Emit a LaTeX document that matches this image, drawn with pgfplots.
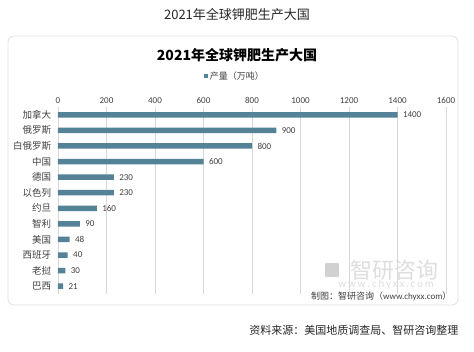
\documentclass[border=0pt]{standalone}
\usepackage{pgfplots}
\pgfplotsset{compat=1.18}
\usepackage{fontspec}
\setmainfont{Noto Sans CJK SC}
\newfontfamily\lat{Carlito}
\definecolor{barc}{RGB}{84,130,150}
\definecolor{gridc}{RGB}{217,217,217}
\definecolor{txt}{RGB}{64,64,64}
\begin{document}
\begin{tikzpicture}
\path (0pt,0pt) rectangle (474pt,351pt);
% card
\draw[rounded corners=6pt, draw=black!12, line width=0.8pt, fill=white] (8pt,46pt) rectangle (458pt,315pt);
% top title
\node[font=\fontsize{13}{15}\selectfont, text=black!85] at (237pt,336pt) {2021年全球钾肥生产大国};
% inner title
\node[font=\fontsize{14}{16}\selectfont\bfseries, text=black] at (237pt,296pt) {2021年全球钾肥生产大国};
% watermark
\node[font=\fontsize{22}{24}\selectfont, text=black!13, anchor=east] at (442pt,81pt) {智研咨询};
\node[font=\fontsize{11}{12}\selectfont, text=black!13] at (386pt,66pt) {\lat w\,w\,w\,.\,c\,h\,y\,x\,x\,.\,c\,o\,m};
\node[font=\fontsize{10}{12}\selectfont, text=black!18, anchor=east] at (343pt,81pt) {\rule{14pt}{14pt}};
% credit
\node[font=\fontsize{9}{11}\selectfont, text=txt, anchor=east] at (455pt,55pt) {制图：智研咨询（{\lat www.chyxx.com}）};
% source
\node[font=\fontsize{11}{13}\selectfont, text=black!85, anchor=east] at (462pt,21pt) {资料来源：美国地质调查局、智研咨询整理};
\begin{axis}[
  at={(58pt,57pt)}, anchor=south west,
  scale only axis, width=388pt, height=187pt,
  xbar, bar width=5.5pt,
  xmin=0, xmax=1600, ymin=-0.5, ymax=11.5,
  y dir=reverse,
  xtick={0,200,...,1600},
  xticklabel pos=upper,
  xmajorgrids, major grid style={gridc, line width=0.6pt},
  axis line style={draw=none},
  tick style={draw=none},
  ytick={0,...,11},
  yticklabels={加拿大,俄罗斯,白俄罗斯,中国,德国,以色列,约旦,智利,美国,西班牙,老挝,巴西},
  yticklabel style={font=\fontsize{9.5}{11}\selectfont, text=txt, xshift=1pt},
  xticklabel style={font=\fontsize{9}{11}\selectfont\lat, text=txt},
  /pgf/number format/assume math mode=true,
  /pgf/number format/1000 sep={},
  nodes near coords,
  nodes near coords style={font=\fontsize{9}{11}\selectfont\lat, text=txt, xshift=2pt},
  legend style={at={(0.456,1)}, anchor=south, yshift=22pt, draw=none, fill=none, font=\fontsize{9}{11}\selectfont, text=txt},
  legend image code/.code={\fill[barc] (0pt,-2pt) rectangle (4pt,2pt);},
]
\addplot[fill=barc, draw=none] coordinates {
(1400,0) (900,1) (800,2) (600,3) (230,4) (230,5) (160,6) (90,7) (48,8) (40,9) (30,10) (21,11)
};
\addlegendentry{产量（万吨）}
\end{axis}
\end{tikzpicture}
\end{document}
